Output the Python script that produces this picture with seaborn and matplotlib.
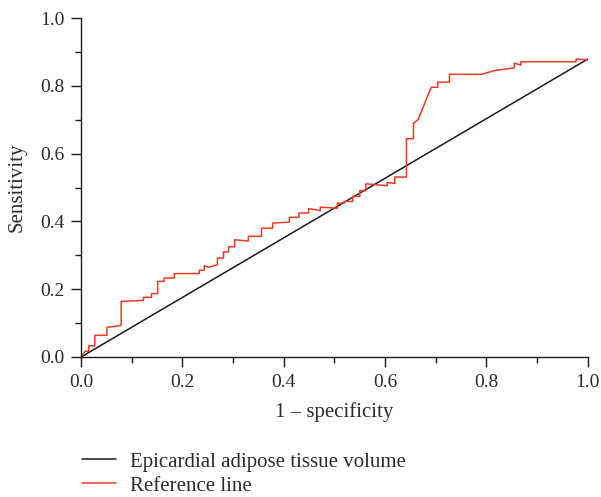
import matplotlib
matplotlib.use("Agg")
import matplotlib.pyplot as plt
import seaborn as sns
from matplotlib.ticker import MultipleLocator
from matplotlib.lines import Line2D

# Diagonal series (black)
diag_x = [0.0, 1.0]
diag_y = [0.0, 0.879]

# Stepped ROC-like series (red), vertices
roc_x = [0.0, 0.008, 0.015, 0.015, 0.027, 0.027, 0.051, 0.051, 0.079, 0.079, 0.123,
         0.123, 0.139, 0.139, 0.151, 0.151, 0.164, 0.164, 0.184, 0.184, 0.233,
         0.233, 0.243, 0.243, 0.252, 0.269, 0.269, 0.281, 0.281, 0.291, 0.291,
         0.303, 0.303, 0.330, 0.330, 0.356, 0.356, 0.378, 0.378, 0.411, 0.411,
         0.430, 0.430, 0.449, 0.449, 0.472, 0.472, 0.506, 0.506, 0.519, 0.519,
         0.536, 0.536, 0.550, 0.550, 0.562, 0.562, 0.604, 0.604, 0.619, 0.619,
         0.642, 0.642, 0.656, 0.656, 0.665, 0.691, 0.704, 0.704, 0.727, 0.727,
         0.790, 0.816, 0.855, 0.855, 0.868, 0.868, 0.977, 0.977, 1.0]
roc_y = [0.0, 0.017, 0.017, 0.033, 0.033, 0.064, 0.064, 0.0875, 0.093, 0.164, 0.167,
         0.176, 0.176, 0.187, 0.187, 0.223, 0.223, 0.233, 0.233, 0.246, 0.246,
         0.256, 0.256, 0.269, 0.265, 0.272, 0.292, 0.292, 0.310, 0.310, 0.325,
         0.325, 0.346, 0.342, 0.356, 0.356, 0.380, 0.380, 0.395, 0.398, 0.412,
         0.412, 0.425, 0.425, 0.438, 0.432, 0.442, 0.439, 0.454, 0.454, 0.459,
         0.459, 0.474, 0.474, 0.491, 0.491, 0.511, 0.505, 0.515, 0.512, 0.531,
         0.531, 0.644, 0.644, 0.690, 0.700, 0.796, 0.796, 0.811, 0.811, 0.834,
         0.834, 0.845, 0.853, 0.867, 0.861, 0.871, 0.871, 0.879, 0.877]

x_ticks = [0.0, 0.2, 0.4, 0.6, 0.8, 1.0]
y_ticks = [0.0, 0.2, 0.4, 0.6, 0.8, 1.0]
x_label = "1 \u2013 specificity"
y_label = "Sensitivity"
legend_labels = ["Epicardial adipose tissue volume", "Reference line"]

sns.set_style("ticks")
plt.rcParams['font.family'] = ['Liberation Serif', 'DejaVu Serif']

BLACK = "#1a1a1a"
RED = "#ef3b24"
TXT = "#2b2b2b"

fig = plt.figure(figsize=(6.01, 4.97), dpi=100)
ax = fig.add_axes([0.135, 0.2817, 0.843, 0.682])

sns.lineplot(x=diag_x, y=diag_y, ax=ax, color=BLACK, linewidth=1.1,
             sort=False, estimator=None)
sns.lineplot(x=roc_x, y=roc_y, ax=ax, color=RED, linewidth=1.1,
             sort=False, estimator=None)

ax.set_xlim(0, 1.0)
ax.set_ylim(0, 1.0)
ax.set_xticks(x_ticks)
ax.set_yticks(y_ticks)
ax.set_xticklabels([f"{t:.1f}" for t in x_ticks])
ax.set_yticklabels([f"{t:.1f}" for t in y_ticks])
ax.xaxis.set_minor_locator(MultipleLocator(0.1))
ax.yaxis.set_minor_locator(MultipleLocator(0.1))
ax.tick_params(axis='both', which='major', direction='out', length=7, width=1,
               labelsize=14, colors=BLACK, labelcolor=TXT, pad=5)
ax.tick_params(axis='both', which='minor', direction='out', length=4, width=1,
               colors=BLACK)
for s in ['top', 'right']:
    ax.spines[s].set_visible(False)
for s in ['left', 'bottom']:
    ax.spines[s].set_linewidth(1.0)
    ax.spines[s].set_color(BLACK)

ax.set_xlabel(x_label, fontsize=15, color=TXT, labelpad=8)
ax.set_ylabel(y_label, fontsize=15, color=TXT, labelpad=10)

handles = [Line2D([], [], color=BLACK, linewidth=1.1),
           Line2D([], [], color=RED, linewidth=1.1)]
fig.legend(handles, legend_labels, loc='upper left',
           bbox_to_anchor=(82 / 601, 1 - 452 / 497), frameon=False, fontsize=15,
           borderpad=0, borderaxespad=0,
           handlelength=1.63, handletextpad=0.67, labelspacing=0.22,
           labelcolor=TXT)

fig.savefig("out.png", dpi=100)
